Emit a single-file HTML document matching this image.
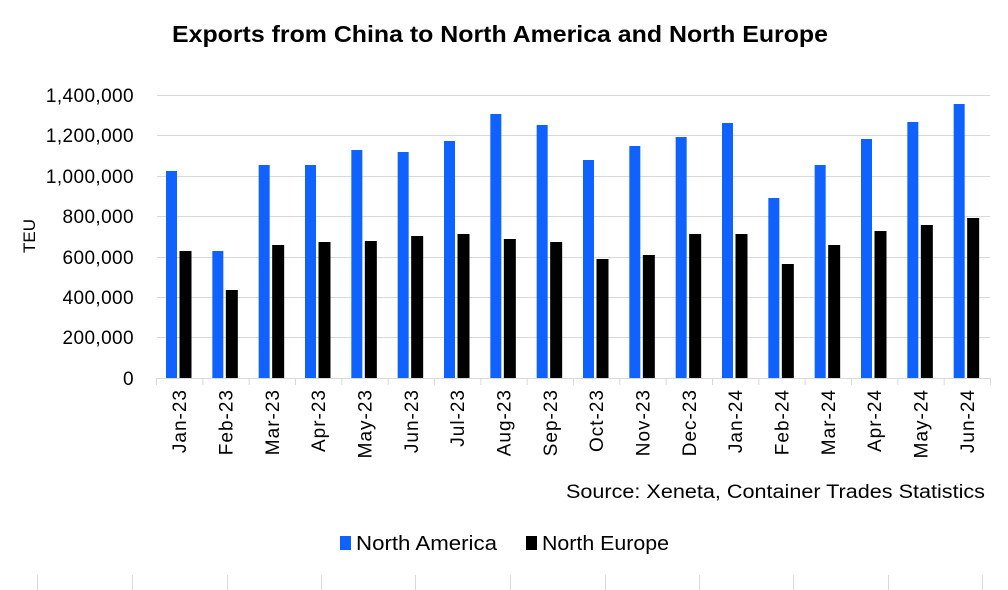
<!DOCTYPE html>
<html><head><meta charset="utf-8"><style>
body{margin:0;background:#fff;}
svg{display:block;font-family:"Liberation Sans",sans-serif;}
</style></head><body>
<svg width="1008" height="590" xmlns="http://www.w3.org/2000/svg">
<rect width="1008" height="590" fill="#fff"/>
<text x="172" y="42" textLength="656" lengthAdjust="spacingAndGlyphs" font-size="23" font-weight="bold" fill="#000">Exports from China to North America and North Europe</text>
<g stroke="#d9d9d9" stroke-width="1">
<line x1="157" x2="990" y1="95.5" y2="95.5"/>
<line x1="157" x2="990" y1="135.5" y2="135.5"/>
<line x1="157" x2="990" y1="176.5" y2="176.5"/>
<line x1="157" x2="990" y1="216.5" y2="216.5"/>
<line x1="157" x2="990" y1="257.5" y2="257.5"/>
<line x1="157" x2="990" y1="297.5" y2="297.5"/>
<line x1="157" x2="990" y1="337.5" y2="337.5"/>
<line x1="157" x2="990" y1="378.5" y2="378.5"/>
</g>
<g font-size="19" fill="#000" text-anchor="end" letter-spacing="0.4">
<text x="134" y="102">1,400,000</text>
<text x="134" y="142">1,200,000</text>
<text x="134" y="183">1,000,000</text>
<text x="134" y="223">800,000</text>
<text x="134" y="264">600,000</text>
<text x="134" y="304">400,000</text>
<text x="134" y="344">200,000</text>
<text x="134" y="385">0</text>
</g>
<text transform="translate(35,236) rotate(-90)" text-anchor="middle" font-size="17" fill="#000">TEU</text>
<g id="bars"></g>
<g id="ticks" stroke="#d9d9d9"></g>
<g id="labels" font-size="19" fill="#000" letter-spacing="1"></g>
<text x="566" y="498" textLength="419" lengthAdjust="spacingAndGlyphs" font-size="19" fill="#000">Source: Xeneta, Container Trades Statistics</text>
<rect x="340" y="536" width="11" height="14" fill="#0f62fe"/>
<text x="356" y="550" textLength="141" lengthAdjust="spacingAndGlyphs" font-size="20" fill="#000">North America</text>
<rect x="526" y="536" width="11" height="14" fill="#000"/>
<text x="542" y="550" textLength="127" lengthAdjust="spacingAndGlyphs" font-size="20" fill="#000">North Europe</text>
<g stroke="#d9d9d9">
<line x1="37.5" x2="37.5" y1="575" y2="590"/><line x1="132.5" x2="132.5" y1="575" y2="590"/><line x1="227.5" x2="227.5" y1="575" y2="590"/><line x1="321.5" x2="321.5" y1="575" y2="590"/><line x1="415.5" x2="415.5" y1="575" y2="590"/><line x1="510.5" x2="510.5" y1="575" y2="590"/><line x1="605.5" x2="605.5" y1="575" y2="590"/><line x1="699.5" x2="699.5" y1="575" y2="590"/><line x1="793.5" x2="793.5" y1="575" y2="590"/><line x1="888.5" x2="888.5" y1="575" y2="590"/><line x1="982.5" x2="982.5" y1="575" y2="590"/>
</g>
<script>
var labs=["Jan-23","Feb-23","Mar-23","Apr-23","May-23","Jun-23","Jul-23","Aug-23","Sep-23","Oct-23","Nov-23","Dec-23","Jan-24","Feb-24","Mar-24","Apr-24","May-24","Jun-24"];
var na=[171,251,165,165,150,152,141,114,125,160,146,137,123,198,165,139,122,104];
var ne=[251,290,245,242,241,236,234,239,242,259,255,234,234,264,245,231,225,218];
var ns="http://www.w3.org/2000/svg",w=(990-156)/18;
function el(t,a,p){var e=document.createElementNS(ns,t);for(var k in a)e.setAttribute(k,a[k]);document.getElementById(p).appendChild(e);return e;}
for(var i=0;i<18;i++){var x=156+i*w;
el("rect",{x:x+10,y:na[i],width:11,height:378-na[i],fill:"#0f62fe"},"bars");
el("rect",{x:x+23.5,y:ne[i],width:12,height:378-ne[i],fill:"#000"},"bars");
el("line",{x1:x+0.5,x2:x+0.5,y1:378,y2:385},"ticks");
var t=el("text",{transform:"translate("+(x+w/2+7)+",389) rotate(-90)","text-anchor":"end"},"labels");t.textContent=labs[i];}
el("line",{x1:990.5,x2:990.5,y1:378,y2:385},"ticks");
</script>
</svg>
</body></html>
